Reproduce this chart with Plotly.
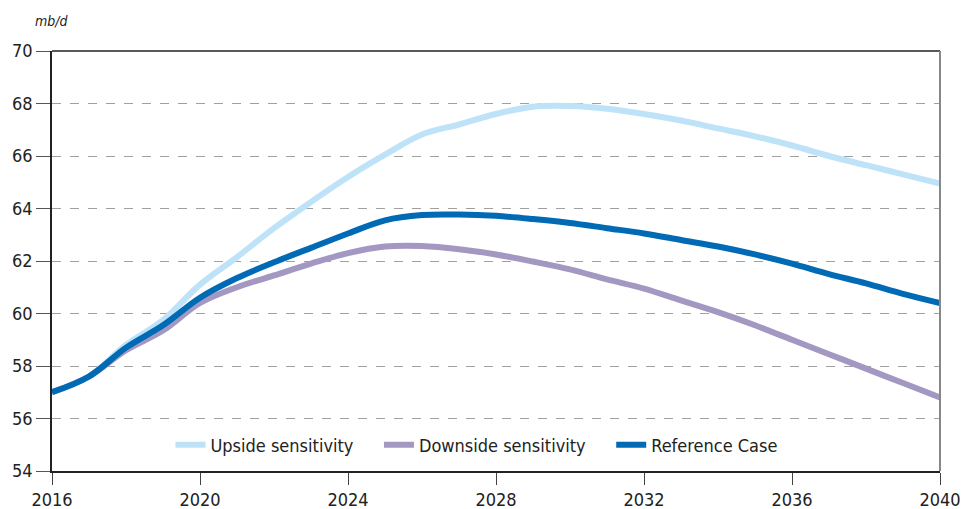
import plotly.graph_objects as go

years = list(range(2016, 2041))
upside = [57.0, 57.6, 58.8, 59.75, 61.1, 62.15, 63.25, 64.25, 65.2, 66.05, 66.82, 67.2, 67.6, 67.88, 67.9,
          67.8, 67.6, 67.35, 67.05, 66.75, 66.4, 66.0, 65.65, 65.3, 64.95]
downside = [57.0, 57.6, 58.6, 59.35, 60.4, 61.0, 61.45, 61.9, 62.3, 62.55, 62.57, 62.45, 62.25, 61.98, 61.68,
            61.3, 60.95, 60.5, 60.05, 59.55, 59.0, 58.45, 57.9, 57.35, 56.8]
reference = [57.0, 57.6, 58.7, 59.55, 60.6, 61.35, 61.95, 62.5, 63.05, 63.55, 63.75, 63.77, 63.72, 63.6, 63.45,
             63.25, 63.05, 62.8, 62.55, 62.25, 61.9, 61.5, 61.15, 60.75, 60.4]
x_ticks = [2016, 2020, 2024, 2028, 2032, 2036, 2040]
y_ticks = [54, 56, 58, 60, 62, 64, 66, 68, 70]
series_names = ["Upside sensitivity", "Downside sensitivity", "Reference Case"]

font_family = "DejaVu Sans Condensed, Roboto, sans-serif"
pad = "\u00a0" * 4

fig = go.Figure()
fig.add_trace(go.Scatter(x=years, y=upside, mode="lines", name=series_names[0] + pad,
                         line=dict(color="#BEE3F8", width=6, shape="spline", smoothing=1.0)))
fig.add_trace(go.Scatter(x=years, y=downside, mode="lines", name=series_names[1] + pad,
                         line=dict(color="#A398C2", width=6, shape="spline", smoothing=1.0)))
fig.add_trace(go.Scatter(x=years, y=reference, mode="lines", name=series_names[2],
                         line=dict(color="#006AB4", width=6, shape="spline", smoothing=1.0)))

fig.update_layout(
    width=963, height=509,
    margin=dict(l=52, r=23, t=51, b=38),
    paper_bgcolor="white", plot_bgcolor="white",
    font=dict(family=font_family, size=18, color="#222222"),
    showlegend=True,
    legend=dict(orientation="h", x=0.478, xanchor="center", y=0.062, yanchor="middle",
                bgcolor="rgba(0,0,0,0)", font=dict(size=18), itemwidth=30,
                tracegroupgap=0),
    xaxis=dict(range=[2016, 2040], tickvals=x_ticks, ticktext=[str(t) for t in x_ticks],
               showgrid=False, zeroline=False, showline=True, linecolor="#222222", linewidth=1.5,
               mirror=False, ticks="outside", ticklen=12, tickcolor="#444444", tickwidth=1,
               automargin=False, tickfont=dict(size=18)),
    yaxis=dict(range=[54, 70], tickvals=y_ticks, showgrid=True, gridcolor="#A0A0A0",
               griddash="dash", gridwidth=1.2, zeroline=False, showline=True,
               linecolor="#222222", linewidth=1.5, ticks="outside", ticklen=14,
               tickcolor="#555555", tickwidth=1, automargin=False, tickfont=dict(size=18)),
    shapes=[
        dict(type="line", xref="x domain", yref="y domain", x0=0, x1=1, y0=1, y1=1,
             line=dict(color="#222222", width=1.5)),
        dict(type="line", xref="x domain", yref="y domain", x0=1, x1=1, y0=0, y1=1,
             line=dict(color="#888888", width=2)),
    ],
    annotations=[
        dict(text="<i>mb/d</i>", xref="paper", yref="paper", x=0, y=1, xanchor="center",
             yanchor="bottom", xshift=0, yshift=20, showarrow=False,
             font=dict(size=14, color="#222222")),
    ],
)

fig.write_html("out.html", config={"displayModeBar": False},
               post_script="document.body.style.margin='0';document.body.style.overflow='hidden';")
